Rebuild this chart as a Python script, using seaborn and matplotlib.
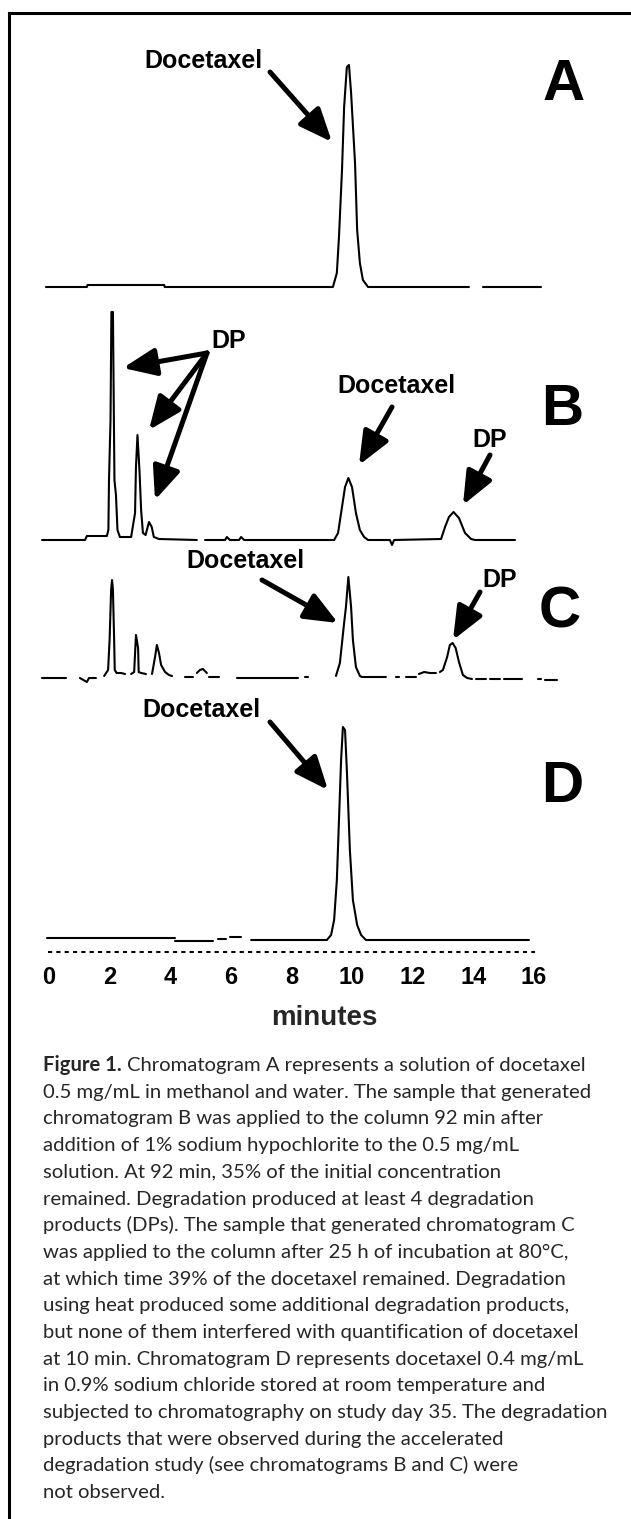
import pandas as pd
import matplotlib
matplotlib.use("Agg")
import matplotlib.pyplot as plt
import seaborn as sns
from matplotlib.lines import Line2D
from matplotlib.transforms import IdentityTransform

W, H = 631, 1519

# ---- chromatogram data (time in minutes, signal in detector units) ----
a_time = [-0.1, 1.25, 1.27, 3.8, 3.82, 9.37, 9.50, 9.57, 9.67, 9.74, 9.83, 9.90, 9.97,
          10.10, 10.17, 10.26, 10.36, 10.53, 13.86,
          14.32, 16.24]
a_signal = [0, 0, 2, 2, 0, 0, 14, 50, 117, 180, 220, 222, 194,
            124, 57, 24, 7, 0, 0,
            0, 0]
a_seg = [0] * 19 + [1] * 2

b_time = [-0.23, 1.19, 1.25, 1.91, 1.96, 1.98, 2.03, 2.06, 2.11, 2.16, 2.21, 2.26, 2.34,
          2.71, 2.84, 2.87, 2.92, 2.99, 3.04, 3.10, 3.19, 3.23, 3.30, 3.39, 3.46, 3.63, 4.88,
          5.15, 5.81, 5.87, 5.97, 6.27, 6.34, 6.44, 9.41, 9.54, 9.67, 9.77, 9.88, 10.0, 10.13,
          10.26, 10.40, 10.53, 11.25, 11.32, 11.39, 12.94, 13.07, 13.20, 13.35, 13.53, 13.73,
          13.93, 14.06, 15.38]
b_signal = [0, 0, 4, 4, 10, 60, 120, 228, 228, 60, 45, 10, 3,
            3, 27, 73, 105, 67, 30, 7, 5, 10, 18, 13, 3, 1, 0,
            0, 0, 3, 0, 0, 3, 0, 0, 7, 33, 53, 62, 53, 27,
            10, 3, 0, 0, -5, 0, 1, 13, 23, 28, 22, 7,
            1, 0, 0]
b_seg = [0] * 27 + [1] * 29

c_time = [-0.23, 0.56,
          1.02, 1.25, 1.32, 1.55,
          1.82, 1.95, 2.0, 2.05, 2.08, 2.11, 2.15, 2.17, 2.23, 2.38, 2.51,
          2.71, 2.81, 2.87, 2.94, 2.96, 3.04, 3.20,
          3.40, 3.50, 3.56, 3.63, 3.70, 3.83, 3.96, 4.06,
          4.49, 4.75,
          4.88, 4.98, 5.08, 5.21,
          5.28, 5.61,
          6.20, 8.22,
          8.45, 8.55,
          9.47, 9.60, 9.67, 9.74, 9.80, 9.88, 9.97, 10.03, 10.13, 10.26, 10.33, 11.12,
          11.45, 11.55,
          11.78, 12.11,
          12.21, 12.38, 12.57, 12.77,
          12.90, 13.0, 13.14, 13.23, 13.32, 13.42, 13.53, 13.66, 13.80, 13.96,
          14.09, 14.42,
          14.55, 14.88,
          15.02, 15.61,
          16.14, 16.24,
          16.37, 16.77]
c_signal = [0, 0,
            0, -4, 0, 0,
            2, 8, 38, 88, 98, 88, 38, 8, 5, 5, 4,
            4, 6, 43, 30, 6, 5, 4,
            4, 21, 33, 25, 13, 6, 3, 2,
            1, 1,
            5, 8, 9, 5,
            1, 1,
            0, 0,
            1, 1,
            2, 15, 35, 55, 71, 101, 71, 38, 11, 2, 1, 1,
            1, 1,
            1, 1,
            4, 6, 5, 5,
            6, 8, 21, 33, 35, 30, 16, 3, 0, -1,
            -1, -1,
            -1, -1,
            -1, -1,
            -1, -1,
            -2, -2]
c_seg = ([0] * 2 + [1] * 4 + [2] * 11 + [3] * 7 + [4] * 8 + [5] * 2 + [6] * 4 + [7] * 2 +
         [8] * 2 + [9] * 2 + [10] * 12 + [11] * 2 + [12] * 2 + [13] * 4 + [14] * 10 +
         [15] * 2 + [16] * 2 + [17] * 2 + [18] * 2 + [19] * 2)

d_time = [-0.07, 4.16,
          4.16, 5.41,
          5.58, 5.84,
          5.97, 6.34,
          6.67, 9.17, 9.31, 9.41, 9.50, 9.57, 9.64, 9.70, 9.77, 9.83, 9.93, 10.03,
          10.17, 10.30, 10.46, 15.84]
d_signal = [2, 2,
            -1, -1,
            1, 1,
            3, 3,
            0, 0, 5, 20, 60, 120, 180, 213, 210, 170, 90, 40,
            15, 5, 0, 0]
d_seg = [0] * 2 + [1] * 2 + [2] * 2 + [3] * 2 + [4] * 16

traces = ["A", "B", "C", "D"]
tick_minutes = [0, 2, 4, 6, 8, 10, 12, 14, 16]

# ---- layout (pixel positions of baselines in the page) ----
baseline_px = {"A": 287, "B": 540, "C": 678, "D": 940}
x0_px, px_per_min = 49, 30.3

frames = []
for name, t, s, g in [("A", a_time, a_signal, a_seg), ("B", b_time, b_signal, b_seg),
                      ("C", c_time, c_signal, c_seg), ("D", d_time, d_signal, d_seg)]:
    df = pd.DataFrame({"time": t, "signal": s, "seg": g})
    df["trace"] = name
    df["unit"] = name + df["seg"].astype(str)
    df["y"] = H - baseline_px[name] + df["signal"]
    frames.append(df)
data = pd.concat(frames, ignore_index=True)

sns.set_theme(style="white")
plt.rcParams["font.family"] = ["Liberation Sans", "DejaVu Sans"]

fig = plt.figure(figsize=(W / 100, H / 100), dpi=100)
xmin, xmax = -0.5, 17.5
left_px = x0_px + xmin * px_per_min
right_px = x0_px + xmax * px_per_min
ax = fig.add_axes([left_px / W, 519 / H, (right_px - left_px) / W, 980 / H])

sns.lineplot(data=data, x="time", y="y", units="unit", estimator=None, sort=False,
             color="black", linewidth=1.5, ax=ax)
ax.set_xlim(xmin, xmax)
ax.set_ylim(519, 1499)
ax.set_xlabel("")
ax.set_ylabel("")
ax.set_yticks([])
for side in ["top", "left", "right"]:
    ax.spines[side].set_visible(False)
ax.spines["bottom"].set_position(("data", H - 952))
ax.spines["bottom"].set_bounds(0, 16)
ax.spines["bottom"].set_linestyle((0, (1, 3)))
ax.spines["bottom"].set_linewidth(1.5)
ax.spines["bottom"].set_color("black")
ax.set_xticks(tick_minutes)
ax.set_xticklabels([str(m) for m in tick_minutes])
ax.tick_params(axis="x", direction="inout", length=6, width=1.5, pad=7, colors="black",
               labelsize=17)
for lab in ax.get_xticklabels():
    lab.set_fontweight("bold")
ax.patch.set_alpha(0)

def fy(y):
    return H - y

# labels: text, x centre, baseline (pixels from top), size
labels = [
    ("Docetaxel", 203, 68, 18), ("A", 564, 100, 42),
    ("DP", 229, 348, 18), ("Docetaxel", 396, 393, 18), ("B", 562, 425, 42),
    ("DP", 490, 447, 18),
    ("Docetaxel", 245, 568, 18), ("DP", 500, 587, 18), ("C", 560, 628, 42),
    ("Docetaxel", 201, 717, 18), ("D", 562, 802, 42),
]
for txt, x, y, size in labels:
    ax.annotate(txt, xy=(x, fy(y)), xycoords="figure pixels", ha="center", va="baseline",
                fontsize=size, fontweight="bold", color="black")

# arrows: tail -> tip (pixels from top)
arrows = [
    ((270, 72), (332, 142)),
    ((207, 353), (123, 368)), ((207, 353), (149, 430)), ((207, 353), (155, 500)),
    ((392, 407), (359, 465)), ((490, 455), (463, 505)),
    ((262, 580), (338, 623)), ((480, 592), (453, 640)),
    ((270, 722), (328, 790)),
]
for (tx, ty), (hx, hy) in arrows:
    ax.annotate("", xy=(hx, fy(hy)), xycoords="figure pixels",
                xytext=(tx, fy(ty)), textcoords="figure pixels",
                arrowprops=dict(arrowstyle="-|>,head_length=1.0,head_width=0.42",
                                lw=3.6, color="black", shrinkA=0, shrinkB=0,
                                mutation_scale=20))

ax.annotate("minutes", xy=(324, fy(1025)), xycoords="figure pixels", ha="center",
            va="baseline", fontsize=20, fontweight="bold")

# border of the figure box
fig.add_artist(Line2D([8.5, 8.5], [0, fy(13)], transform=IdentityTransform(),
                      color="black", lw=2.2, solid_capstyle="projecting"))
fig.add_artist(Line2D([8.5, W], [fy(13), fy(13)], transform=IdentityTransform(),
                      color="black", lw=2.2, solid_capstyle="projecting"))

# caption
caption_first = "Chromatogram A represents a solution of docetaxel"
caption_lines = [
    "0.5 mg/mL in methanol and water. The sample that generated",
    "chromatogram B was applied to the column 92 min after",
    "addition of 1% sodium hypochlorite to the 0.5 mg/mL",
    "solution. At 92 min, 35% of the initial concentration",
    "remained. Degradation produced at least 4 degradation",
    "products (DPs). The sample that generated chromatogram C",
    "was applied to the column after 25 h of incubation at 80°C,",
    "at which time 39% of the docetaxel remained. Degradation",
    "using heat produced some additional degradation products,",
    "but none of them interfered with quantification of docetaxel",
    "at 10 min. Chromatogram D represents docetaxel 0.4 mg/mL",
    "in 0.9% sodium chloride stored at room temperature and",
    "subjected to chromatography on study day 35. The degradation",
    "products that were observed during the accelerated",
    "degradation study (see chromatograms B and C) were",
    "not observed.",
]
cap_font = ["Lato", "DejaVu Sans"]
cap_x, cap_y0, cap_pitch = 43, 1071, 26.7
renderer = fig.canvas.get_renderer()
widest = 0
for line in caption_lines:
    probe = fig.text(0, 0, line, fontsize=13, family=cap_font)
    widest = max(widest, probe.get_window_extent(renderer).width)
    probe.remove()
cap_size = 13 * 562 / widest

head = ax.annotate("Figure 1.", xy=(cap_x, fy(cap_y0)), xycoords="figure pixels",
                   va="baseline", fontsize=cap_size, fontweight="bold", family=cap_font)
hw = head.get_window_extent(renderer).width
ax.annotate(caption_first, xy=(cap_x + hw + cap_size * 0.35, fy(cap_y0)),
            xycoords="figure pixels", va="baseline", fontsize=cap_size, family=cap_font)
for i, line in enumerate(caption_lines, start=1):
    ax.annotate(line, xy=(cap_x, fy(cap_y0 + i * cap_pitch)), xycoords="figure pixels",
                va="baseline", fontsize=cap_size, family=cap_font)

fig.savefig("out.png", dpi=100)
